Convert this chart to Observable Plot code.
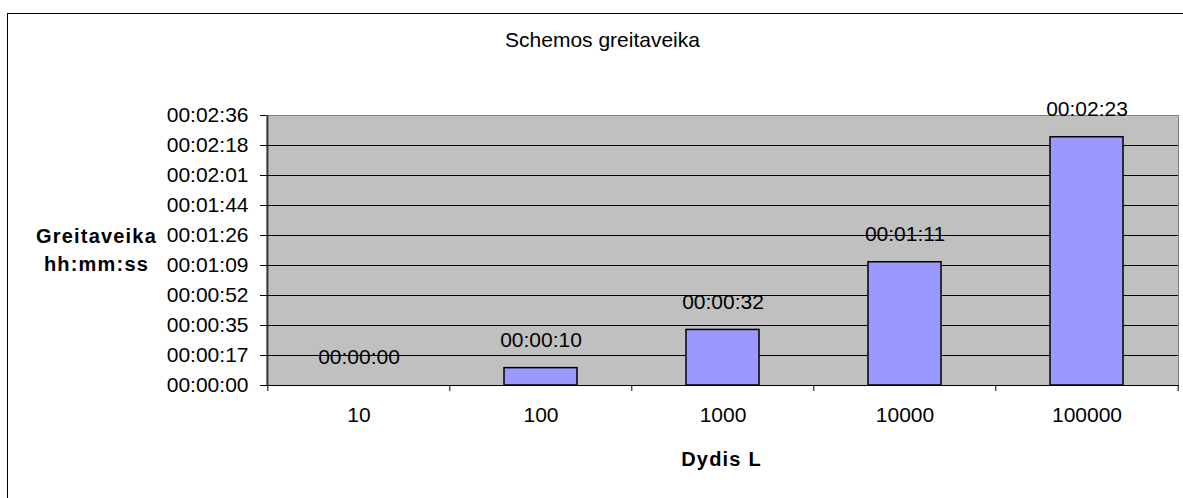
<!DOCTYPE html>
<html>
<head>
<meta charset="utf-8">
<script src="https://cdn.jsdelivr.net/npm/d3@7"></script>
<script src="https://cdn.jsdelivr.net/npm/@observablehq/plot@0.6"></script>
<style>
  html, body { margin: 0; padding: 0; background: #fff; overflow: hidden; }
  #wrap { position: relative; width: 1183px; height: 498px; }
  #border { position: absolute; left: 7px; top: 13px; width: 1400px; height: 700px;
            border-left: 1px solid #000; border-top: 1px solid #000; }
  #wrap svg { position: absolute; left: 0; top: 0; }
  g[font-weight="bold"] text { letter-spacing: 1.2px; }
</style>
</head>
<body>
<div id="wrap"><div id="border"></div></div>
<script>
// Array size (Dydis L) and measured run time in seconds
const sizes = ["10", "100", "1000", "10000", "100000"];
const seconds = [0, 10, 32, 71, 143];

// Y ticks: steps of 0.0002 day (17.28 s)
const tickSeconds = [0, 17.28, 34.56, 51.84, 69.12, 86.4, 103.68, 120.96, 138.24, 155.52];

const titleText = "Schemos greitaveika";
const yTitle = "Greitaveika\nhh:mm:ss";
const xTitle = "Dydis L";

const table = sizes.map((s, i) => ({size: s, sec: seconds[i]}));

const pad2 = n => String(n).padStart(2, "0");
const hms = v => {
  const s = Math.round(v);
  return `${pad2(Math.floor(s / 3600))}:${pad2(Math.floor(s / 60) % 60)}:${pad2(s % 60)}`;
};

const W = 1183, H = 498;
const mL = 266, mR = 5, mT = 115, mB = 113;
const step = (W - mL - mR) / sizes.length;
const yMax = tickSeconds[tickSeconds.length - 1];

const chart = Plot.plot({
  width: W,
  height: H,
  marginLeft: mL,
  marginRight: mR,
  marginTop: mT,
  marginBottom: mB,
  style: {
    fontFamily: "'Liberation Sans', Arial, sans-serif",
    fontSize: "21px",
    color: "#000",
    background: "transparent",
    overflow: "visible"
  },
  x: {type: "band", domain: sizes, paddingInner: 0.6, paddingOuter: 0.3, axis: null},
  y: {domain: [0, yMax], axis: null},
  marks: [
    // plot area
    Plot.frame({fill: "#c0c0c0", stroke: "#808080"}),
    Plot.gridY(tickSeconds.filter(t => t < yMax), {stroke: "#000", strokeOpacity: 1}),
    // bars
    Plot.barY(table, {x: "size", y: "sec", fill: "#9999ff", stroke: "#000", strokeWidth: 1.5}),
    // axis lines
    Plot.ruleY([0], {stroke: "#000"}),
    Plot.ruleX([sizes[0]], {dx: -step / 2, stroke: "#000"}),
    // category boundary ticks
    Plot.ruleX(sizes, {dx: -step / 2, y1: 0, y2: 0, insetBottom: -6, stroke: "#000"}),
    Plot.ruleX([sizes[sizes.length - 1]], {dx: step / 2, y1: 0, y2: 0, insetBottom: -6, stroke: "#000"}),
    // axes
    Plot.axisY({ticks: tickSeconds, tickSize: 6, tickPadding: 12, tickFormat: hms, label: null}),
    Plot.axisX({tickSize: 0, tickPadding: 22, label: null}),
    // value labels
    Plot.text(table, {x: "size", y: "sec", text: d => hms(d.sec), dy: -28}),
    // titles
    Plot.text([titleText], {frameAnchor: "top", lineAnchor: "middle", dx: -120, dy: -75}),
    Plot.text([yTitle], {frameAnchor: "left", lineAnchor: "middle", textAnchor: "middle",
                         dx: -170, dy: -2.5, fontWeight: "bold", fontSize: 20, lineHeight: 1.42}),
    Plot.text([xTitle], {frameAnchor: "bottom", lineAnchor: "middle", dx: -1, dy: 74,
                         fontWeight: "bold", fontSize: 20})
  ]
});

document.getElementById("wrap").appendChild(chart);
</script>
</body>
</html>
